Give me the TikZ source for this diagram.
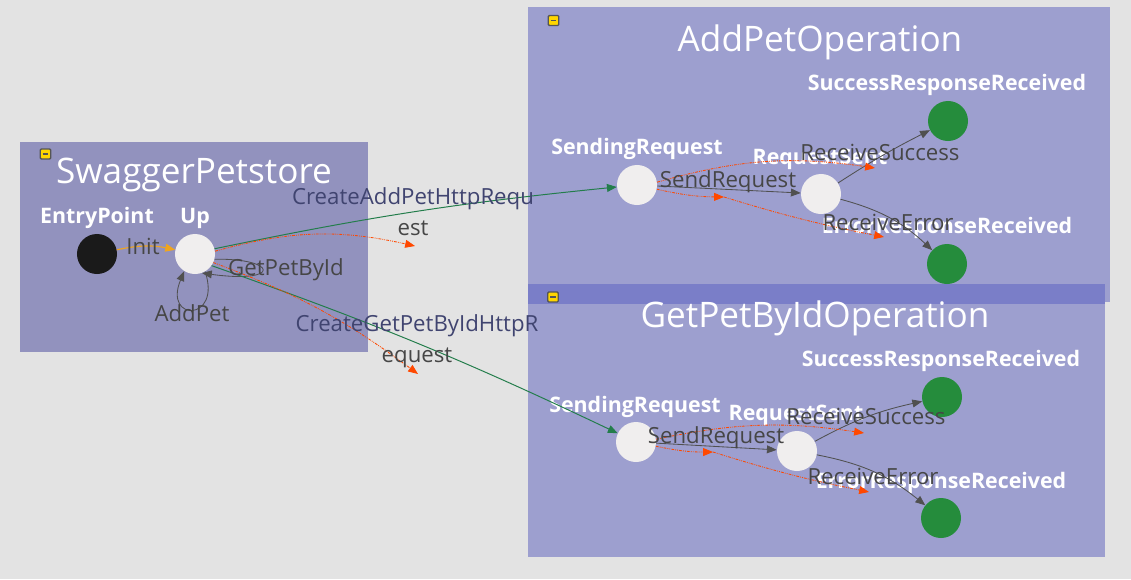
\documentclass[tikz,border=0pt]{standalone}
\usepackage{fontspec}
\setmainfont{Open Sans}
\usetikzlibrary{arrows.meta}
\definecolor{bgGray}{RGB}{227,227,227}
\definecolor{machineBox}{RGB}{146,146,190}
\definecolor{opBox}{RGB}{157,159,207}
\definecolor{opHead}{RGB}{122,126,200}
\definecolor{stateLight}{RGB}{240,238,238}
\definecolor{stateDark}{RGB}{26,26,26}
\definecolor{stateDone}{RGB}{37,140,60}
\definecolor{edgeGray}{RGB}{80,80,80}
\definecolor{labelGray}{RGB}{70,70,70}
\definecolor{createText}{RGB}{64,68,112}
\definecolor{createGreen}{RGB}{35,125,75}
\definecolor{initOrange}{RGB}{240,165,30}
\definecolor{pendingRed}{RGB}{255,72,0}
\definecolor{iconYellow}{RGB}{255,214,0}
\definecolor{iconBorder}{RGB}{85,85,85}

\begin{document}
\begin{tikzpicture}[x=0.025cm, y=-0.025cm,
    state/.style={circle, minimum size=1cm, inner sep=0pt},
    startstate/.style={state, fill=stateDark},
    midstate/.style={state, fill=stateLight},
    endstate/.style={state, fill=stateDone},
    statename/.style={text=white, font=\bfseries\fontsize{15.2}{18}\selectfont, inner sep=0pt},
    boxtitle/.style={text=white, font=\fontsize{25}{30}\selectfont, inner sep=0pt},
    trigger/.style={text=labelGray, font=\fontsize{15.8}{22}\selectfont, inner sep=0pt, align=center},
    collapser/.style={draw=iconBorder, fill=iconYellow, line width=0.9pt, rounded corners=0.8pt,
        minimum width=7.6pt, minimum height=7pt, inner sep=0pt},
    tip/.style={-{Triangle[length=7pt,width=5.6pt]}},
    trans/.style={tip, draw=edgeGray, line width=0.6pt},
    init/.style={tip, draw=initOrange, line width=0.8pt},
    create/.style={tip, draw=createGreen, line width=0.7pt},
    pending/.style={tip, draw=pendingRed, line width=0.6pt,
        dash pattern=on 2pt off 0.8pt on 0.6pt off 0.8pt on 0.6pt off 0.8pt},
]
    \fill[bgGray] (0,0) rectangle (1131,579);
    \useasboundingbox (0,0) rectangle (1131,579);

    % Boxes
    \fill[machineBox] (20,142) rectangle (368,352);
    \fill[opBox] (528,7) rectangle (1110,302);
    \fill[opBox] (528,284) rectangle (1105,557);
    \fill[opHead] (528,284) rectangle (1105,304);
    \node[collapser] (swIcon) at (45.5,154) {};
    \node[collapser] (addIcon) at (553.5,20.5) {};
    \node[collapser] (getIcon) at (553,297) {};
    \foreach \ic in {swIcon,addIcon,getIcon}
        \draw[iconBorder, line width=1pt] ([xshift=-2pt]\ic.center) -- ([xshift=2pt]\ic.center);
    \node[boxtitle] (swTitle) at (194,175) {SwaggerPetstore};
    \node[boxtitle] (addTitle) at (820,42) {AddPetOperation};
    \node[boxtitle] (getTitle) at (815,318) {GetPetByIdOperation};

    % SwaggerPetstore
    \node[startstate] (entry) at (97,254) {};
    \node[midstate] (up) at (195,254) {};
    \node[statename] (entryName) at (97,218) {EntryPoint};
    \node[statename] (upName) at (195,218) {Up};
    \coordinate (addDangle) at (415,246);
    \coordinate (getDangle) at (418,374);

    % AddPetOperation
    \node[midstate] (addSend) at (637,185) {};
    \node[midstate] (addSent) at (821,194) {};
    \node[endstate] (addOk) at (948,121) {};
    \node[endstate] (addErr) at (947,264) {};
    \node[statename] (addSendName) at (637,149) {SendingRequest};
    \node[statename] (addSentName) at (820,159) {RequestSent};
    \node[statename] (addOkName) at (947,85) {SuccessResponseReceived};
    \node[statename] (addErrName) at (947,228) {ErrorResponseReceived};
    \coordinate (addUpTip) at (875,168);
    \coordinate (addMidTip) at (724,197);
    \coordinate (addErrTip) at (884,237);

    % GetPetByIdOperation
    \node[midstate] (getSend) at (636,442) {};
    \node[midstate] (getSent) at (797,451) {};
    \node[endstate] (getOk) at (942,397) {};
    \node[endstate] (getErr) at (941,518) {};
    \node[statename] (getSendName) at (635,407) {SendingRequest};
    \node[statename] (getSentName) at (796,415) {RequestSent};
    \node[statename] (getOkName) at (941,361) {SuccessResponseReceived};
    \node[statename] (getErrName) at (941,483) {ErrorResponseReceived};
    \coordinate (getUpTip) at (864,433);
    \coordinate (getMidTip) at (713,452);
    \coordinate (getErrTip) at (869,492);

    % transitions
    \draw[init] (entry) to[bend left=12] (up);
    \draw[trans] (up.-15) .. controls (278,258) and (282,284) .. (up.-70);
    \draw[trans] (up.-60) .. controls (222,322) and (163,322) .. (up.-122);
    \draw[create] (up.15) to[bend left=3] (addSend);
    \draw[create] (up.-35) to[bend left=3] (getSend);
    \draw[pending] (up.8) to[bend left=14] (addDangle);
    \draw[pending] (up.-25) to[bend left=8] (getDangle);

    \draw[trans] (addSend) -- (addSent);
    \draw[trans] (addSent) to[bend left=3] (addOk);
    \draw[trans] (addSent) to[bend left=14] (addErr);
    \draw[pending] (addSend.8) to[bend left=12] (addUpTip);
    \draw[pending] (addSend.-12) to[bend right=6] (addMidTip);
    \draw[pending] (addMidTip) to[bend right=3] (addErrTip);

    \draw[trans] (getSend) -- (getSent);
    \draw[trans] (getSent) to[bend left=8] (getOk);
    \draw[trans] (getSent) to[bend left=14] (getErr);
    \draw[pending] (getSend.8) to[bend left=10] (getUpTip);
    \draw[pending] (getSend.-12) to[bend right=6] (getMidTip);
    \draw[pending] (getMidTip) to[bend right=3] (getErrTip);

    % trigger labels
    \node[trigger] (initLbl) at (143,246) {Init};
    \node[trigger] (getByIdLbl) at (286,270) {GetPetById};
    \node[trigger] (addPetLbl) at (192,313) {AddPet};
    \node[trigger] (createAddLbl) at (413,212) {\textcolor{createText}{CreateAddPetHttpRequ}\\est};
    \node[trigger] (createGetLbl) at (417,341) {\textcolor{createText}{CreateGetPetByIdHttpR}\\equest};
    \node[trigger] (addSendLbl) at (728,182) {SendRequest};
    \node[trigger] (addOkLbl) at (880,152) {ReceiveSuccess};
    \node[trigger] (addErrLbl) at (888,222) {ReceiveError};
    \node[trigger] (getSendLbl) at (716,438) {SendRequest};
    \node[trigger] (getOkLbl) at (866,416) {ReceiveSuccess};
    \node[trigger] (getErrLbl) at (873,476) {ReceiveError};
\end{tikzpicture}
\end{document}
